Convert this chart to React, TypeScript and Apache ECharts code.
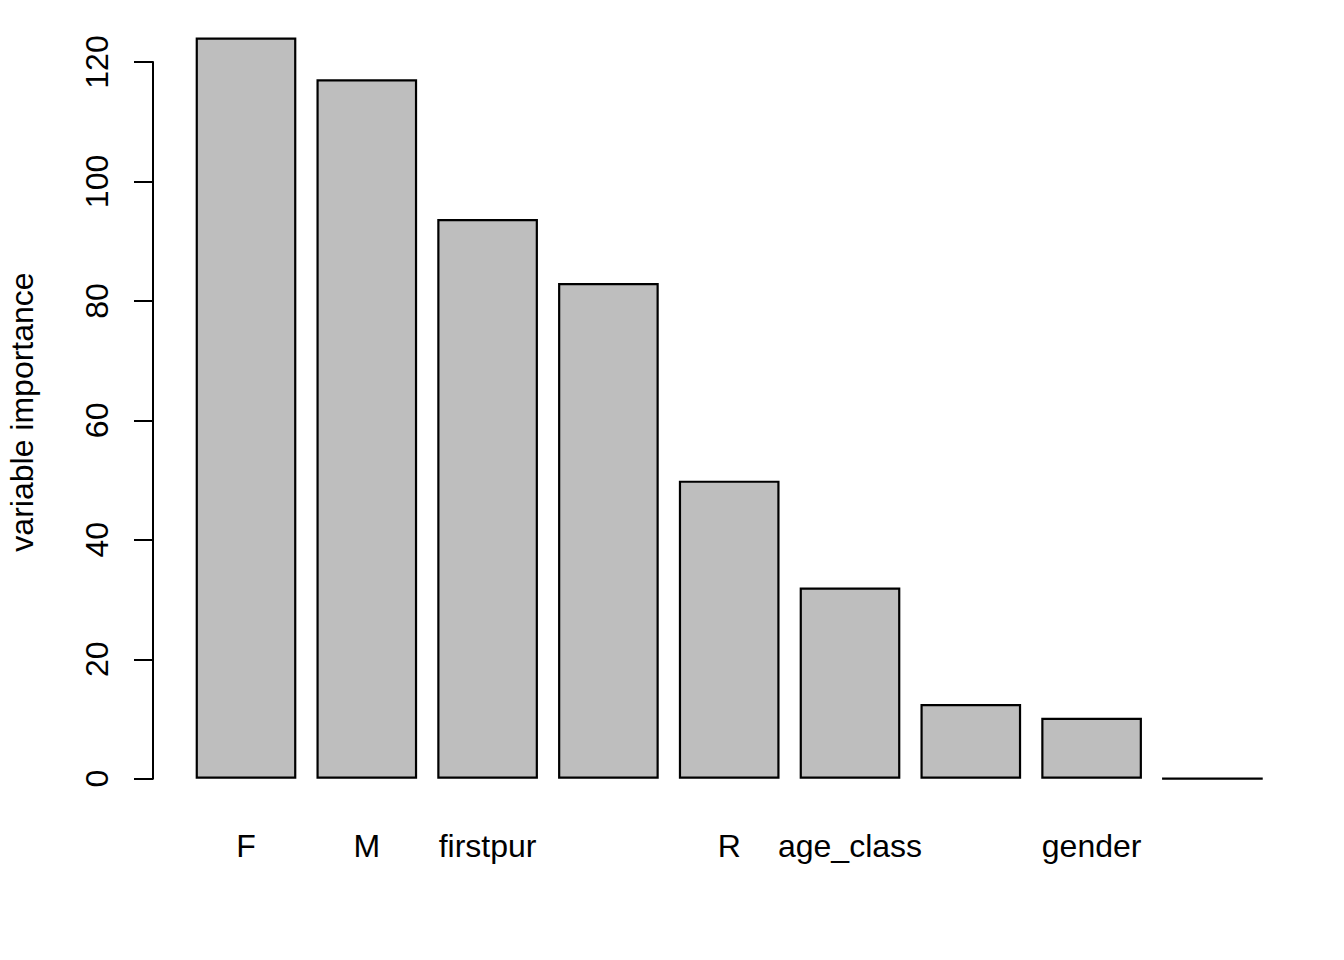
import React, { useEffect, useRef } from "react";
import * as echarts from "echarts";

const categories = ["F", "M", "firstpur", "", "R", "age_class", "", "gender", ""];
const importance = [124.1, 117.1, 93.7, 83.0, 49.9, 32.0, 12.5, 10.2, 0];
const yTicks = [0, 20, 40, 60, 80, 100, 120];
const yTitle = "variable importance";

const FONT = "Liberation Sans, Arial, Helvetica, sans-serif";

export default function App() {
  const ref = useRef<HTMLDivElement>(null);
  useEffect(() => {
    if (!ref.current) return;
    const chart = echarts.init(ref.current, undefined, { renderer: "svg" });
    chart.setOption({
      animation: false,
      backgroundColor: "#ffffff",
      grid: { left: 185.6, right: 71.2, top: 62, bottom: 181.3, containLabel: false },
      xAxis: {
        type: "category",
        data: categories.map((_, i) => String(i)),
        axisLine: { show: false },
        axisTick: { show: false },
        axisLabel: {
          interval: 0,
          margin: 51,
          fontFamily: FONT,
          fontSize: 32,
          lineHeight: 32,
          color: "#000",
          formatter: (v: string) => categories[Number(v)],
        },
        splitLine: { show: false },
      },
      yAxis: {
        type: "value",
        min: yTicks[0],
        max: yTicks[yTicks.length - 1],
        interval: 20,
        offset: 32.6,
        axisLine: { show: true, lineStyle: { color: "#000", width: 2 } },
        axisTick: { show: true, length: 19, lineStyle: { color: "#000", width: 2 } },
        axisLabel: {
          rotate: 90,
          margin: 40,
          fontFamily: FONT,
          fontSize: 32,
          lineHeight: 32,
          color: "#000",
        },
        splitLine: { show: false },
      },
      graphic: [
        {
          type: "text",
          x: 22,
          y: 412,
          rotation: Math.PI / 2,
          style: {
            text: yTitle,
            fontFamily: FONT,
            fontSize: 32,
            fill: "#000",
            align: "center",
            verticalAlign: "middle",
          },
        },
      ],
      series: [
        {
          type: "bar",
          data: importance,
          barCategoryGap: "16.67%",
          clip: false,
          itemStyle: { color: "#bebebe", borderColor: "#000", borderWidth: 2.2 },
          emphasis: { disabled: true },
        },
      ],
    });
    return () => chart.dispose();
  }, []);
  return (
    <div
      ref={ref}
      style={{ position: "fixed", left: 0, top: 0, width: 1344, height: 960, background: "#fff" }}
    />
  );
}
